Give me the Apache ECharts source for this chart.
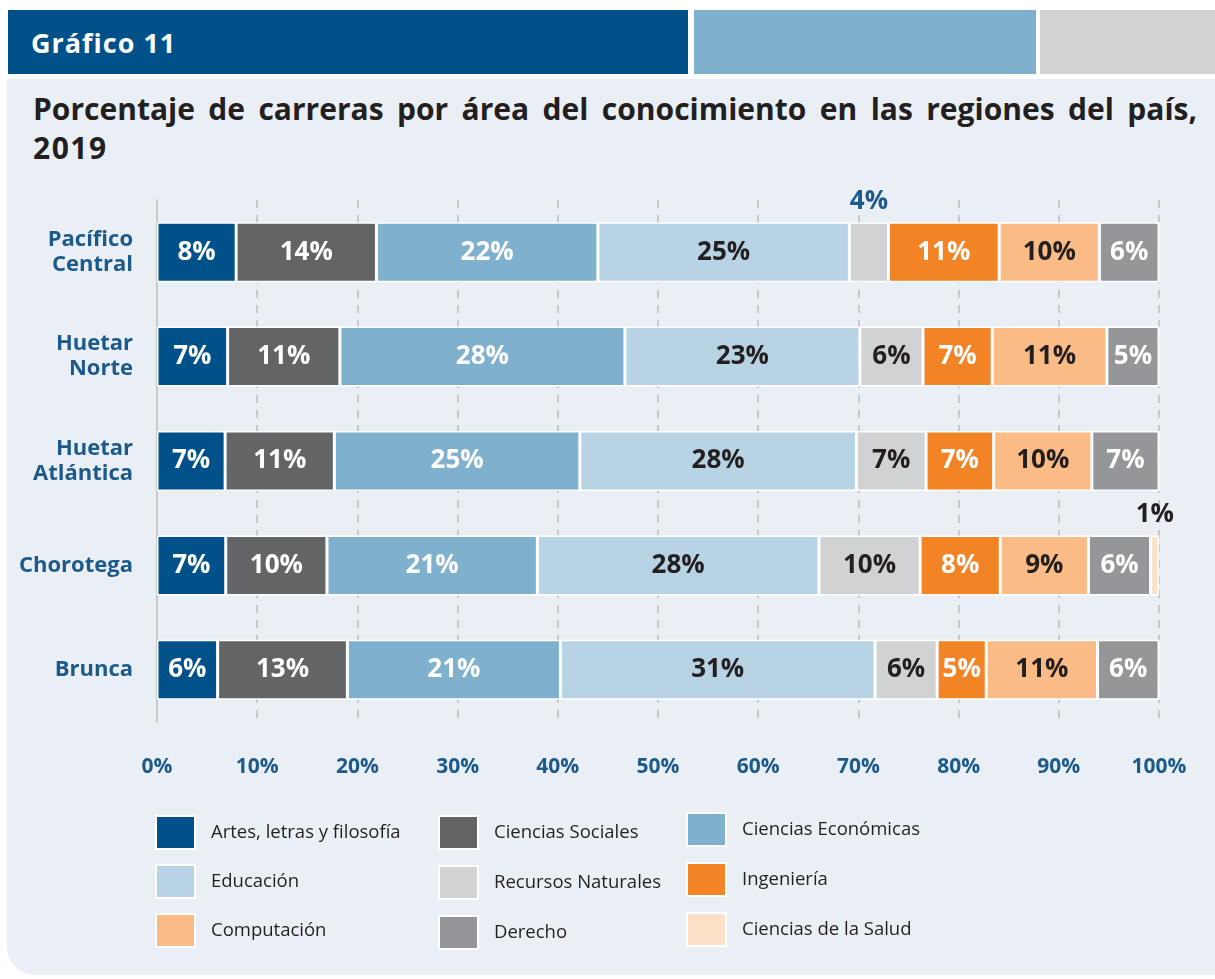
<!DOCTYPE html>
<html lang="es">
<head>
    <meta charset="UTF-8">
    <title>Gráfico 11</title>
    <script src="https://cdn.jsdelivr.net/npm/echarts@6/dist/echarts.min.js"></script>
    <style>
        html, body { margin: 0; padding: 0; background: #ffffff; }
        .page { position: relative; width: 1215px; height: 979px; overflow: hidden; }
        .panel {
            position: absolute; left: 7px; top: 79px; width: 1240px; height: 896px;
            background: #eaeff6; border-bottom-left-radius: 28px;
        }
        .hdr { position: absolute; top: 10px; height: 64px; }
        .hdr1 { left: 8px; width: 680px; background: #005189; }
        .hdr2 { left: 694px; width: 342px; background: #7fb1cf; }
        .hdr3 { left: 1040px; width: 200px; background: #d1d2d4; }
        .hdr-text {
            position: absolute; left: 31px; top: 24px; line-height: 36px;
            font: bold 27px "Open Sans", sans-serif; color: #ffffff; letter-spacing: 1px;
        }
        .title {
            position: absolute; left: 33px; width: 1164px;
            font: bold 30px "Open Sans", sans-serif; color: #231f20; line-height: 40px;
        }
        .t1 { top: 89px; text-align: justify; text-align-last: justify; }
        .t2 { top: 128px; letter-spacing: 1.5px; }
        #main { position: absolute; left: 0; top: 0; width: 1215px; height: 979px; }
    </style>
</head>
<body>
<div class="page">
    <div class="panel"></div>
    <div class="hdr hdr1"></div>
    <div class="hdr hdr2"></div>
    <div class="hdr hdr3"></div>
    <div class="hdr-text">Gráfico 11</div>
    <div class="title t1">Porcentaje de carreras por área del conocimiento en las regiones del país,</div>
    <div class="title t2">2019</div>
    <div id="main"></div>
</div>
<script>
    // regiones (de arriba hacia abajo)
    var regiones = ['Pacífico\nCentral', 'Huetar\nNorte', 'Huetar\nAtlántica', 'Chorotega', 'Brunca'];

    // porcentaje por área, una posición por región
    var artes       = [7.9, 7.05, 6.8, 6.86, 6.05];
    var sociales    = [14.0, 11.2, 10.9, 10.1, 12.95];
    var economicas  = [22.1, 28.45, 24.5, 21.0, 21.26];
    var educacion   = [25.1, 23.45, 27.6, 28.1, 31.4];
    var recursos    = [3.9, 6.3, 6.95, 10.1, 6.2];
    var ingenieria  = [11.05, 6.9, 6.75, 8.0, 4.9];
    var computacion = [10.0, 11.45, 9.8, 8.8, 11.1];
    var derecho     = [5.95, 5.2, 6.7, 6.2, 6.14];
    var salud       = [0, 0, 0, 0.84, 0];

    var ticks = [0, 10, 20, 30, 40, 50, 60, 70, 80, 90, 100];

    var areas = [
        {name: 'Artes, letras y filosofía', data: artes,       color: '#005189', txt: '#ffffff'},
        {name: 'Ciencias Sociales',         data: sociales,    color: '#636466', txt: '#ffffff'},
        {name: 'Ciencias Económicas',       data: economicas,  color: '#7fb1cf', txt: '#ffffff'},
        {name: 'Educación',                 data: educacion,   color: '#b8d3e4', txt: '#231f20'},
        {name: 'Recursos Naturales',        data: recursos,    color: '#d1d2d4', txt: '#231f20', out: '#1d5a8c'},
        {name: 'Ingeniería',                data: ingenieria,  color: '#f38426', txt: '#ffffff'},
        {name: 'Computación',               data: computacion, color: '#fbbb86', txt: '#231f20'},
        {name: 'Derecho',                   data: derecho,     color: '#959699', txt: '#ffffff'},
        {name: 'Ciencias de la Salud',      data: salud,       color: '#fde0c8', txt: '#231f20', out: '#231f20'}
    ];

    var series = areas.map(function (a) {
        return {
            name: a.name,
            type: 'bar',
            stack: 'total',
            barWidth: 60,
            itemStyle: {color: a.color, borderColor: '#ffffff', borderWidth: 1.5},
            label: {
                show: true,
                position: 'inside',
                color: a.txt,
                fontFamily: 'Open Sans',
                fontWeight: 'bold',
                fontSize: 26,
                formatter: function (p) { return p.value > 0 ? Math.round(p.value) + '%' : ''; }
            },
            data: a.data.map(function (v) {
                if (v > 0 && v < 4.5) {
                    // segmentos muy angostos: etiqueta por encima de la barra
                    return {value: v, label: {position: 'top', distance: 8, color: a.out || a.txt}};
                }
                return v;
            })
        };
    });

    var legendBase = {
        orient: 'vertical',
        icon: 'rect',
        padding: 0,
        itemWidth: 39,
        itemHeight: 33,
        itemGap: 14,
        selectedMode: false,
        textStyle: {color: '#231f20', fontSize: 18.5, fontFamily: 'Open Sans', padding: [0, 0, 0, 11]}
    };

    var myChart = echarts.init(document.getElementById('main'));
    var option = {
        backgroundColor: 'transparent',
        animation: false,
        grid: {left: 157, right: 56, top: 200, height: 522, containLabel: false},
        xAxis: {
            type: 'value',
            min: ticks[0],
            max: ticks[ticks.length - 1],
            interval: 10,
            axisLine: {show: false},
            axisTick: {show: false},
            axisLabel: {
                margin: 35,
                color: '#1d5a8c',
                fontFamily: 'Open Sans',
                fontWeight: 'bold',
                fontSize: 21,
                formatter: '{value}%'
            },
            splitLine: {show: true, lineStyle: {color: '#c8c9cb', width: 2, type: [8, 7]}}
        },
        yAxis: {
            type: 'category',
            inverse: true,
            data: regiones,
            axisTick: {show: false},
            axisLine: {show: true, lineStyle: {color: '#c8c9cb', width: 2}},
            axisLabel: {
                margin: 24,
                color: '#1d5a8c',
                fontFamily: 'Open Sans',
                fontWeight: 'bold',
                fontSize: 22,
                lineHeight: 25,
                align: 'right'
            }
        },
        legend: [
            Object.assign({}, legendBase, {left: 155, top: 815, data: ['Artes, letras y filosofía', 'Educación', 'Computación']}),
            Object.assign({}, legendBase, {left: 438, top: 815, itemGap: 15, data: ['Ciencias Sociales', 'Recursos Naturales', 'Derecho']}),
            Object.assign({}, legendBase, {left: 686, top: 812, itemGap: 15, data: ['Ciencias Económicas', 'Ingeniería', 'Ciencias de la Salud']})
        ],
        series: series
    };
    myChart.setOption(option, true);
</script>
</body>
</html>
